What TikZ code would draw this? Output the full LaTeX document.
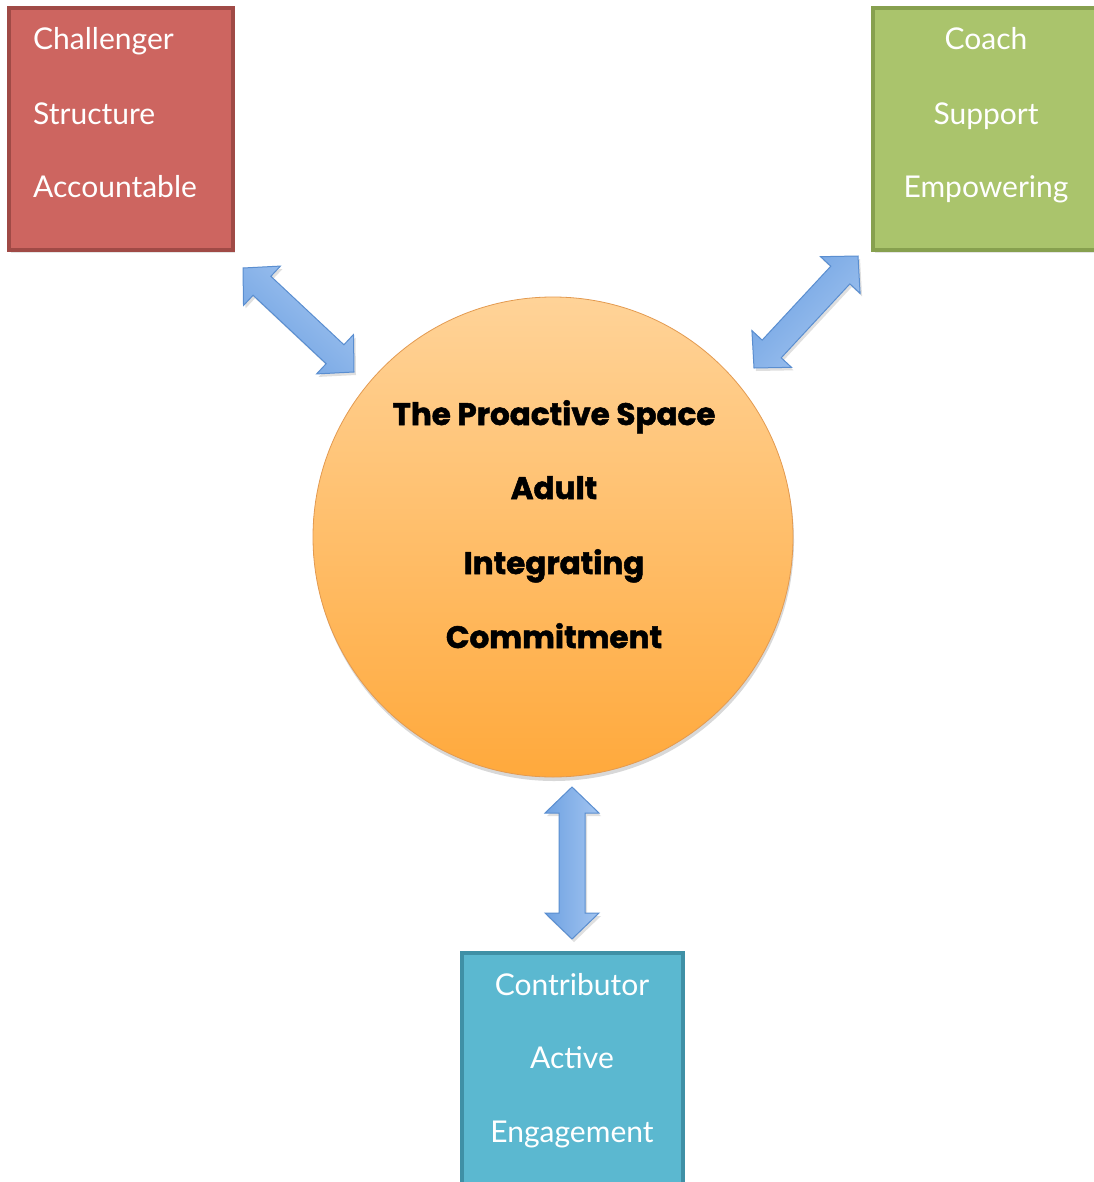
\documentclass[tikz,border=0pt]{standalone}
\usepackage{fontspec}
\setmainfont{Lato}
\newfontfamily\heavyfont{Poppins}[BoldFeatures={FakeBold=1.6}]
\usetikzlibrary{calc,shadows}
\definecolor{redfill}{HTML}{CD6560}
\definecolor{redline}{HTML}{A04A46}
\definecolor{greenfill}{HTML}{AAC46C}
\definecolor{greenline}{HTML}{87A04F}
\definecolor{bluefill}{HTML}{5BB8D0}
\definecolor{blueline}{HTML}{3F90A6}
\definecolor{arrline}{HTML}{5A8ED0}
\definecolor{arrlight}{HTML}{A2C4F0}
\definecolor{arrdark}{HTML}{6FA2E2}
\definecolor{orangetop}{HTML}{FFD398}
\definecolor{orangebot}{HTML}{FFA93C}
\definecolor{orangeline}{HTML}{E39A50}
\newcommand\blockarrow[2]{%
  \path let \p1=(#1), \p2=(#2) in \pgfextra{%
    \pgfmathsetmacro\myarrang{atan2(\y2-\y1,\x2-\x1)}%
    \pgfmathsetmacro\myarrlen{veclen(\x2-\x1,\y2-\y1)}%
    \global\let\myarrang\myarrang \global\let\myarrlen\myarrlen};
  \begin{scope}[shift={(#1)}, rotate=\myarrang, x=1pt, y=1pt]
    \path[arrowbody, shading angle=\myarrang]
      (0,0) -- (26,27) -- (26,13) -- ({\myarrlen-26},13) -- ({\myarrlen-26},27)
      -- (\myarrlen,0) -- ({\myarrlen-26},-27) -- ({\myarrlen-26},-13)
      -- (26,-13) -- (26,-27) -- cycle;
  \end{scope}}
\begin{document}
\begin{tikzpicture}[x=1pt,y=-1pt,
  box/.style={rectangle, line width=4pt, minimum width=224pt, minimum height=242pt, inner sep=0pt},
  boxshadow/.style={drop shadow={opacity=0.2, shadow xshift=2pt, shadow yshift=-3pt}},
  boxtext/.style={text=white, font=\fontsize{30}{36}\selectfont, inner sep=0pt},
  circtext/.style={text=black, font=\heavyfont\bfseries\fontsize{31}{37}\selectfont, inner sep=0pt, anchor=base},
  arrowbody/.style={draw=arrline, line width=1pt, top color=arrlight, bottom color=arrdark,
     drop shadow={opacity=0.25, shadow xshift=2pt, shadow yshift=-3pt}},
]
\fill[white] (0,0) rectangle (1093,1182);
\useasboundingbox (0,0) rectangle (1093,1182);

% boxes
\node[box, fill=redfill, draw=redline, boxshadow] (red) at (121,129) {};
\node[box, fill=greenfill, draw=greenline, boxshadow] (green) at (985,129) {};
\node[box, fill=bluefill, draw=blueline, minimum width=221pt, boxshadow] (blue) at (572.5,1074) {};

% box texts
\node[boxtext, anchor=base west] (r1) at (33,50) {Challenger};
\node[boxtext, anchor=base west] (r2) at (33,125) {Structure};
\node[boxtext, anchor=base west] (r3) at (33,198) {Accountable};
\node[boxtext, anchor=base] (g1) at (986,50) {Coach};
\node[boxtext, anchor=base] (g2) at (986,125) {Support};
\node[boxtext, anchor=base] (g3) at (986,198) {Empowering};
\node[boxtext, anchor=base] (b1) at (572,995) {Contributor};
\node[boxtext, anchor=base] (b2) at (572,1068) {Active};
\node[boxtext, anchor=base] (b3) at (572,1142) {Engagement};

% circle
\node[circle, minimum size=480pt, inner sep=0pt, top color=orangetop, bottom color=orangebot,
      draw=orangeline, line width=0.8pt,
      drop shadow={opacity=0.3, shadow xshift=1pt, shadow yshift=-4pt}] (space) at (553,537) {};
\node[circtext] (c1) at (554,425) {The Proactive Space};
\node[circtext] (c2) at (554,499) {Adult};
\node[circtext] (c3) at (554,574) {Integrating};
\node[circtext] (c4) at (554,648) {Commitment};

% arrows
\coordinate (a1s) at (243,268);
\coordinate (a1e) at (354,372);
\coordinate (a2s) at (858,256);
\coordinate (a2e) at (754,368);
\coordinate (a3s) at (572,787);
\coordinate (a3e) at (572,939);
\blockarrow{a1s}{a1e}
\blockarrow{a2s}{a2e}
\blockarrow{a3s}{a3e}
\end{tikzpicture}
\end{document}
